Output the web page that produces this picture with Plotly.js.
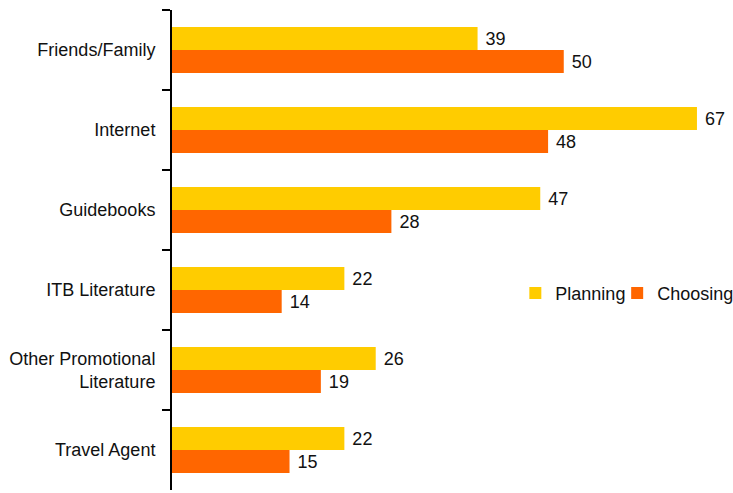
<!DOCTYPE html>
<html><head><meta charset="utf-8">
<script src="https://cdn.plot.ly/plotly-3.0.1.min.js"></script>
<style>html,body{margin:0;padding:0;background:#fff}</style>
</head><body>
<div id="chart" style="width:733px;height:493px"></div>
<script>
const categories = ["Friends/Family", "Internet", "Guidebooks", "ITB Literature", "Other Promotional<br>Literature", "Travel Agent"];
const planning = [39, 67, 47, 22, 26, 22];
const choosing = [50, 48, 28, 14, 19, 15];
const seriesNames = ["Planning", "Choosing"];

const fontFam = "'Liberation Sans', Arial, sans-serif";
const mk = (name, vals, color, leg) => ({
  type: 'bar', orientation: 'h', name: name, y: categories, x: vals,
  marker: {color: color}, legend: leg,
  text: vals.map(v => String(v)), textposition: 'outside',
  texttemplate: ' %{x}',
  textfont: {family: fontFam, size: 18, color: '#111'},
  cliponaxis: false, hoverinfo: 'none'
});
const data = [mk(seriesNames[0], planning, '#FFCC00', 'legend'), mk(seriesNames[1], choosing, '#FF6600', 'legend2')];
const legBase = {orientation: 'h', y: 0.41, yanchor: 'middle',
  font: {family: fontFam, size: 18, color: '#111'}, itemwidth: 30, bgcolor: 'rgba(0,0,0,0)'};
const layout = {
  width: 733, height: 493,
  margin: {l: 172, r: 0, t: 10, b: 3, autoexpand: false},
  paper_bgcolor: '#fff', plot_bgcolor: '#fff',
  font: {family: fontFam, size: 18, color: '#111'},
  barmode: 'group', bargap: 0.425, bargroupgap: 0,
  xaxis: {range: [0, 71.6], visible: false, showgrid: false, zeroline: false},
  yaxis: {autorange: 'reversed', showline: true, linecolor: '#000', linewidth: 2,
          ticks: 'outside', tickson: 'boundaries', ticklen: 8, tickwidth: 2, tickcolor: '#000',
          ticklabelstandoff: 11, showgrid: false, zeroline: false,
          tickfont: {family: fontFam, size: 18, color: '#111'}},
  showlegend: true,
  legend: Object.assign({}, legBase, {x: 0.612, xanchor: 'left'}),
  legend2: Object.assign({}, legBase, {x: 1.011, xanchor: 'right'})
};
Plotly.newPlot('chart', data, layout, {displayModeBar: false, staticPlot: true});
</script>
</body></html>
